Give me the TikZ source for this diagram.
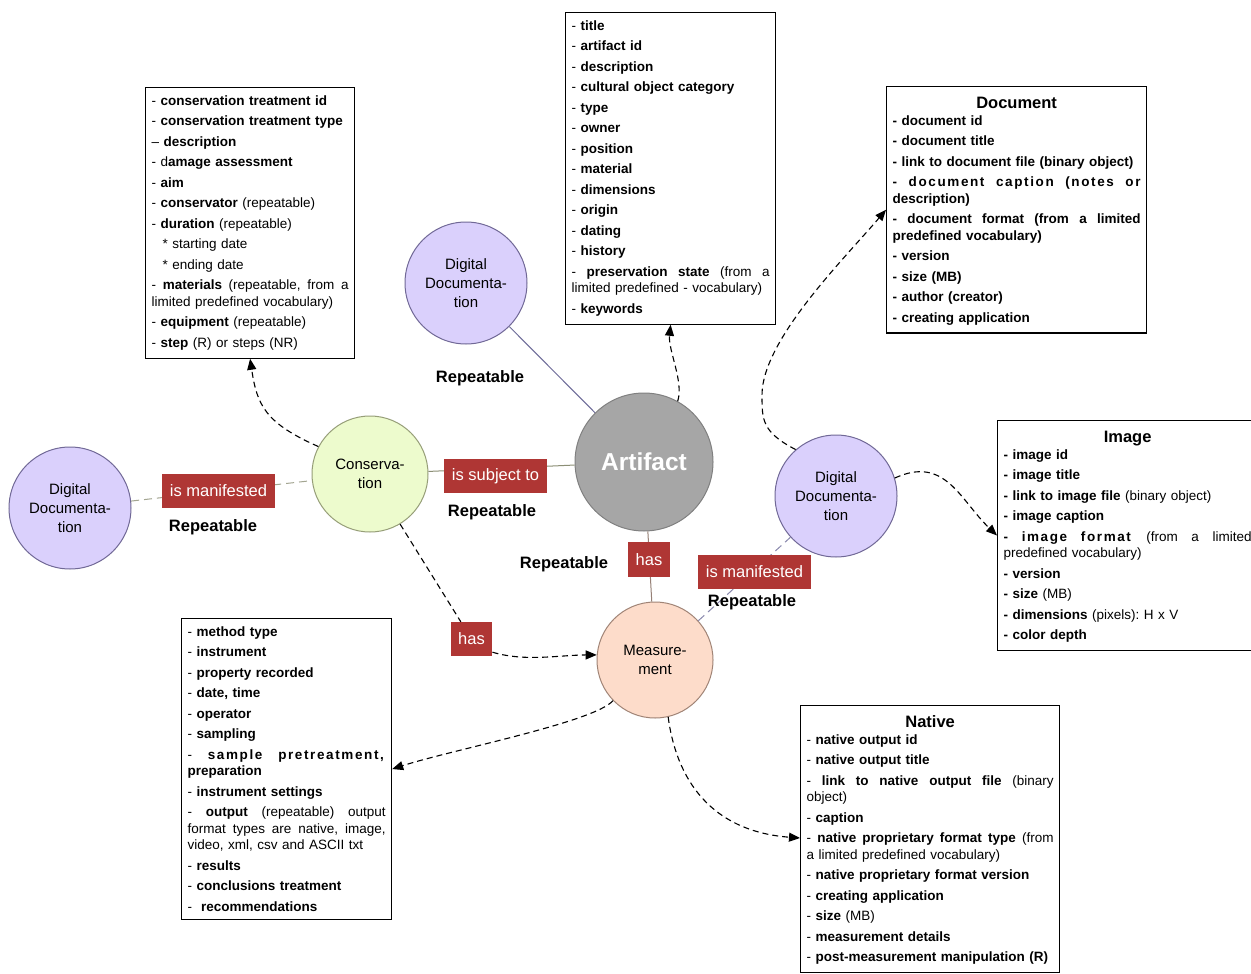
\documentclass[tikz,border=0pt]{standalone}
\usepackage{fontspec}
\setmainfont{Liberation Sans}
\usepackage{tikz}
\usetikzlibrary{arrows.meta, positioning}

\definecolor{ddfill}{RGB}{218,208,252}
\definecolor{dddraw}{RGB}{112,104,150}
\definecolor{artfill}{RGB}{166,166,166}
\definecolor{artdraw}{RGB}{128,128,128}
\definecolor{consfill}{RGB}{237,251,205}
\definecolor{consdraw}{RGB}{150,158,120}
\definecolor{measfill}{RGB}{253,220,202}
\definecolor{measdraw}{RGB}{160,132,118}
\definecolor{relred}{RGB}{175,54,52}
\definecolor{linkpurple}{RGB}{108,106,152}
\definecolor{linkolive}{RGB}{140,143,118}
\definecolor{linkbrown}{RGB}{150,128,118}

% one stretched (justified) line inside a box
\newcommand{\fl}[1]{\makebox[\hsize][s]{\spaceskip=.3333em plus 1fil\relax #1}}
% letter spaced words
\newcommand{\ls}[1]{{\addfontfeature{LetterSpace=12}#1}}
\newcommand{\nextitem}{\\[4pt]}

\begin{document}
\begin{tikzpicture}[
    x=1pt, y=-1pt,
    circ/.style={circle, draw, line width=1pt, align=center, inner sep=0pt, font=\fontsize{15}{19}\selectfont},
    digdoc/.style={circ, fill=ddfill, draw=dddraw, minimum size=122pt},
    attrbox/.style={rectangle, draw, line width=1.2pt, anchor=north west, align=left, inner xsep=6pt, inner ysep=8pt, font=\fontsize{13.5}{16.5}\selectfont\frenchspacing},
    rel/.style={rectangle, fill=relred, text=white, minimum height=34pt, inner xsep=7.5pt, font=\fontsize{16.5}{19}\selectfont},
    rep/.style={font=\fontsize{16.5}{19}\selectfont\bfseries},
    link/.style={line width=1pt},
    arrow/.style={-{Triangle[length=11pt,width=9pt]}, line width=1.1pt, dash pattern=on 6pt off 4pt}
]
    \fill[white] (0,0) rectangle (1251,974);
    \clip (0,0) rectangle (1251,974);

    % Entities
    \node[digdoc] (ddtop) at (466,283) {Digital\\Documenta-\\tion};
    \node[circ, fill=artfill, draw=artdraw, minimum size=138pt, text=white, font=\fontsize{24.5}{28}\selectfont\bfseries] (art) at (644,462) {Artifact};
    \node[circ, fill=consfill, draw=consdraw, minimum size=116pt] (cons) at (370,474) {Conserva-\\tion};
    \node[digdoc] (ddleft) at (70,508) {Digital\\Documenta-\\tion};
    \node[digdoc] (ddright) at (836,496) {Digital\\Documenta-\\tion};
    \node[circ, fill=measfill, draw=measdraw, minimum size=116pt] (meas) at (655,660) {Measure-\\ment};

    % Attribute boxes
    \node[attrbox, text width=197pt] (consbox) at (145,87) {%
        - \textbf{conservation treatment id}\nextitem
        - \textbf{conservation treatment type}\nextitem
        -- \textbf{description}\nextitem
        - d\textbf{amage assessment}\nextitem
        - \textbf{aim}\nextitem
        - \textbf{conservator} (repeatable)\nextitem
        - \textbf{duration} (repeatable)\nextitem
        \hspace*{11pt}* starting date\nextitem
        \hspace*{11pt}* ending date\nextitem
        \fl{- \textbf{materials} (repeatable, from a}\\
        limited predefined vocabulary)\nextitem
        - \textbf{equipment} (repeatable)\nextitem
        - \textbf{step} (R) or steps (NR)};

    \node[attrbox, text width=198pt] (artbox) at (565,12) {%
        - \textbf{title}\nextitem
        - \textbf{artifact id}\nextitem
        - \textbf{description}\nextitem
        - \textbf{cultural object category}\nextitem
        - \textbf{type}\nextitem
        - \textbf{owner}\nextitem
        - \textbf{position}\nextitem
        - \textbf{material}\nextitem
        - \textbf{dimensions}\nextitem
        - \textbf{origin}\nextitem
        - \textbf{dating}\nextitem
        - \textbf{history}\nextitem
        \fl{- \textbf{preservation state} (from a}\\
        limited predefined - vocabulary)\nextitem
        - \textbf{keywords}};

    \node[attrbox, text width=248pt] (docbox) at (886,86) {%
        \bfseries
        \makebox[\hsize]{\rule{0pt}{14pt}\fontsize{16.5}{19}\selectfont Document}\\
        - document id\nextitem
        - document title\nextitem
        - link to document file (binary object)\nextitem
        \fl{- \ls{document caption (notes or}}\\
        description)\nextitem
        \fl{- document format (from a limited}\\
        predefined vocabulary)\nextitem
        - version\nextitem
        - size (MB)\nextitem
        - author (creator)\nextitem
        - creating application};

    \node[attrbox, text width=248pt] (imgbox) at (997,420) {%
        \makebox[\hsize]{\rule{0pt}{14pt}\fontsize{16.5}{19}\selectfont\bfseries Image}\\
        \textbf{- image id}\nextitem
        \textbf{- image title}\nextitem
        \textbf{- link to image file} (binary object)\nextitem
        \textbf{- image caption}\nextitem
        \fl{\textbf{- \ls{image format}} (from a limited}\\
        predefined vocabulary)\nextitem
        \textbf{- version}\nextitem
        \textbf{- size} (MB)\nextitem
        \textbf{- dimensions} (pixels): H x V\nextitem
        \textbf{- color depth}};

    \node[attrbox, text width=198pt] (measbox) at (181,618) {%
        - \textbf{method type}\nextitem
        - \textbf{instrument}\nextitem
        - \textbf{property recorded}\nextitem
        - \textbf{date, time}\nextitem
        - \textbf{operator}\nextitem
        - \textbf{sampling}\nextitem
        \fl{- \textbf{\ls{sample pretreatment,}}}\\
        \textbf{preparation}\nextitem
        - \textbf{instrument settings}\nextitem
        \fl{- \textbf{output} (repeatable) output}\\
        \fl{format types are native, image,}\\
        video, xml, csv and ASCII txt\nextitem
        - \textbf{results}\nextitem
        - \textbf{conclusions treatment}\nextitem
        -\ \ \textbf{recommendations}};

    \node[attrbox, text width=247pt] (natbox) at (800,705) {%
        \makebox[\hsize]{\rule{0pt}{14pt}\fontsize{16.5}{19}\selectfont\bfseries Native}\\
        - \textbf{native output id}\nextitem
        - \textbf{native output title}\nextitem
        \fl{- \textbf{link to native output file} (binary}\\
        object)\nextitem
        - \textbf{caption}\nextitem
        \fl{- \textbf{native proprietary format type} (from}\\
        a limited predefined vocabulary)\nextitem
        - \textbf{native proprietary format version}\nextitem
        - \textbf{creating application}\nextitem
        - \textbf{size} (MB)\nextitem
        - \textbf{measurement details}\nextitem
        - \textbf{post-measurement manipulation (R)}};

    % Relations between entities
    \draw[link, draw=linkpurple] (ddtop) -- (art);
    \draw[link, draw=linkolive] (cons) -- (art);
    \draw[link, draw=linkolive!80, dash pattern=on 8pt off 5pt] (ddleft) -- (cons);
    \draw[link, draw=linkbrown] (art) -- (meas);
    \draw[link, draw=linkpurple!80, dash pattern=on 8pt off 5pt] (meas) -- (ddright);

    % Relation labels
    \node[rel] (manleft) at (218.5,491) {is manifested};
    \node[rel] (subj) at (495.5,476) {is subject to};
    \node[rel, minimum height=35pt] (hasart) at (649,559.5) {has};
    \node[rel] (manright) at (754.5,572) {is manifested};
    \node[rel] (hascons) at (471.5,639) {has};

    \node[rep] (reptop) at (480,378) {Repeatable};
    \node[rep] (repleft) at (213,527) {Repeatable};
    \node[rep] (repsubj) at (492,512) {Repeatable};
    \node[rep] (rephas) at (564,564) {Repeatable};
    \node[rep] (repman) at (752,602) {Repeatable};

    % Entity -> attributes
    \draw[arrow] (cons.152) .. controls (265,423) and (257,405) .. (consbox.south);
    \draw[arrow] (art.61) .. controls (684,382) and (668,350) .. (artbox.south);
    \draw[arrow] (ddright.131) .. controls (762,432) and (762,420) .. (762,395)
        .. controls (762,340) and (845,258) .. (docbox.west);
    \draw[arrow] (ddright.17) .. controls (945,455) and (960,500) .. (imgbox.west);
    \draw[arrow, -] (cons.301) -- (hascons);
    \draw[arrow] ([yshift=4pt]hascons.south east) .. controls (525,662) and (560,655) .. (meas.175);
    \draw[arrow] (meas.224) .. controls (595,722) and (451,750) .. (measbox.east);
    \draw[arrow] (meas.283) .. controls (678,790) and (720,832) .. ([yshift=-133pt]natbox.north west);
\end{tikzpicture}
\end{document}
